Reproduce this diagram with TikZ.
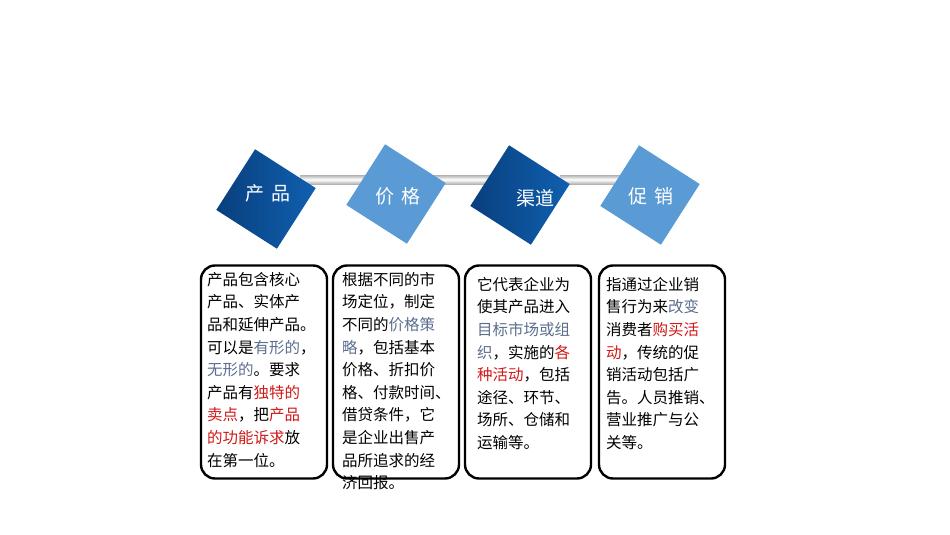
\documentclass[tikz,border=0pt]{standalone}
\usepackage{fontspec}
\setmainfont{Noto Sans CJK SC}
\usetikzlibrary{shadings}
\definecolor{dk}{HTML}{0A4A93}
\definecolor{dkl}{HTML}{1060B0}
\definecolor{lt}{HTML}{5B9BD5}
\definecolor{gb}{HTML}{5C6E8E}
\definecolor{rd}{HTML}{D01818}
\tikzset{
 sq/.style={minimum size=72pt,inner sep=0pt,rotate=-32.6,text=white,font=\fontsize{19}{20}\selectfont},
 sqd/.style={sq,left color=dk!85!black,right color=dkl},
 sql/.style={sq,fill=lt},
 rod/.style={top color=gray!60,bottom color=gray!60,middle color=white,draw=none},
 box/.style={draw=black,line width=2.4pt,rounded corners=14pt,minimum width=126pt,minimum height=213pt,inner sep=0pt},
 txt/.style={anchor=north west,align=left,inner sep=0pt,font=\fontsize{15.5}{22.6}\selectfont}
}
\begin{document}
\begin{tikzpicture}[x=1pt,y=-1pt]
\useasboundingbox (0,0) rectangle (950,535);
\shade[rod] (300,175) rectangle (365,184);
\shade[rod] (430,175) rectangle (495,184);
\shade[rod] (560,175) rectangle (625,184);
\node[sqd] (p1) at (266,199) {};
\node[sql] (p2) at (396,194) {};
\node[sqd] (p3) at (520,195) {};
\node[sql] (p4) at (650,195) {};
\node[text=white,font=\fontsize{19}{20}\selectfont] (t1) at (268,193) {产\,\,品};
\node[text=white,font=\fontsize{19}{20}\selectfont] (t2) at (398,196) {价\,\,格};
\node[text=white,font=\fontsize{19}{20}\selectfont] (t3) at (535,198) {渠道};
\node[text=white,font=\fontsize{19}{20}\selectfont] (t4) at (651,196) {促\,\,销};
\node[box] (b1) at (264,372) {};
\node[box] (b2) at (396,372) {};
\node[box] (b3) at (528,372) {};
\node[box] (b4) at (662,372) {};
\node[txt] (x1) at (207,272) {产品包含核心\\产品、实体产\\品和延伸产品。\\可以是\textcolor{gb}{有形的}，\\\textcolor{gb}{无形的}。要求\\产品有\textcolor{rd}{独特的}\\\textcolor{rd}{卖点}，把\textcolor{rd}{产品}\\\textcolor{rd}{的功能诉求}放\\在第一位。};
\node[txt] (x2) at (342,272) {根据不同的市\\场定位，制定\\不同的\textcolor{gb}{价格策}\\\textcolor{gb}{略}，包括基本\\价格、折扣价\\格、付款时间、\\借贷条件，它\\是企业出售产\\品所追求的经\\济回报。};
\node[txt] (x3) at (477,277) {它代表企业为\\使其产品进入\\\textcolor{gb}{目标市场或组}\\\textcolor{gb}{织}，实施的\textcolor{rd}{各}\\\textcolor{rd}{种活动}，包括\\途径、环节、\\场所、仓储和\\运输等。};
\node[txt] (x4) at (606,277) {指通过企业销\\售行为来\textcolor{gb}{改变}\\消费者\textcolor{rd}{购买活}\\\textcolor{rd}{动}，传统的促\\销活动包括广\\告。人员推销、\\营业推广与公\\关等。};
\end{tikzpicture}
\end{document}
